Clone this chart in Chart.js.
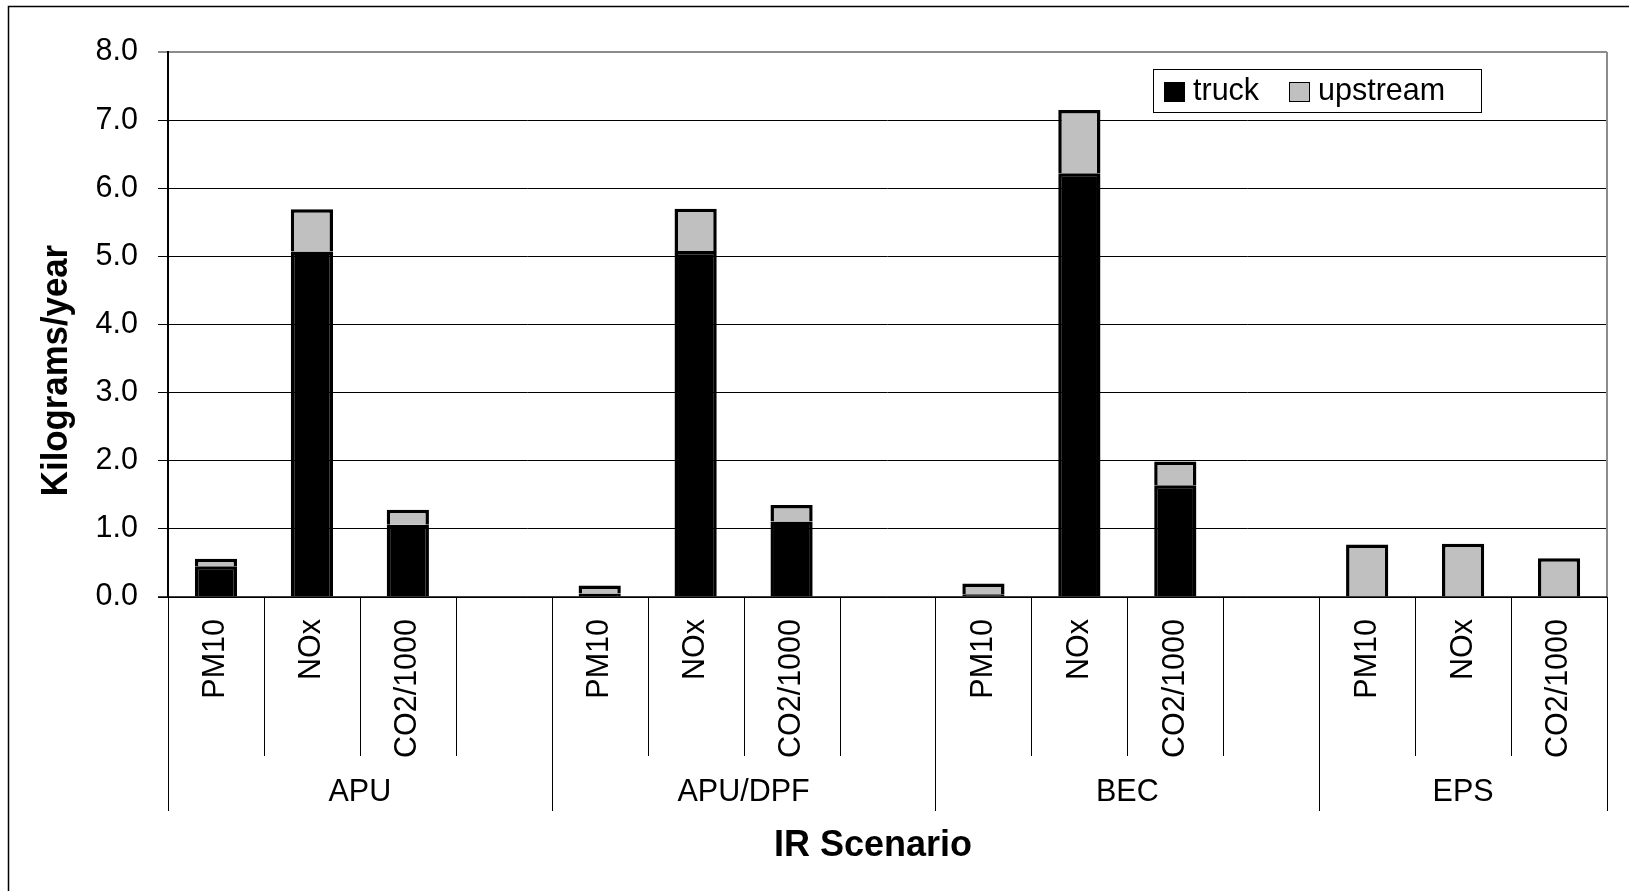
<!DOCTYPE html>
<html>
<head>
<meta charset="utf-8">
<title>IR Scenario emissions</title>
<script src="https://cdn.jsdelivr.net/npm/chart.js@4.4.1/dist/chart.umd.min.js"></script>
<style>
  html, body { margin: 0; padding: 0; background: #ffffff; }
  #wrap { width: 1629px; height: 891px; }
</style>
</head>
<body>
<div id="wrap"><canvas id="chart" width="1629" height="891"></canvas></div>
<script>
// Pollutant slots per scenario (blank slot separates the scenario groups)
const categories = ['PM10', 'NOx', 'CO2/1000', '',
                    'PM10', 'NOx', 'CO2/1000', '',
                    'PM10', 'NOx', 'CO2/1000', '',
                    'PM10', 'NOx', 'CO2/1000'];
const groups = ['APU', 'APU/DPF', 'BEC', 'EPS'];
const groupSizes = [4, 4, 4, 3];

// kilograms/year
const truck    = [0.45, 5.07, 1.06, null,  0.05, 5.08, 1.11, null,  0.04, 6.22, 1.64, null,  0, 0, 0];
const upstream = [0.11, 0.62, 0.22, null,  0.12, 0.62, 0.24, null,  0.16, 0.93, 0.35, null,  0.77, 0.78, 0.57];

const seriesNames = ['truck', 'upstream'];
const seriesColors = ['#000000', '#c0c0c0'];

const yMin = 0, yMax = 8, yStep = 1;
const yTitle = 'Kilograms/year';
const xTitle = 'IR Scenario';

const FONT = '"Liberation Sans", Arial, sans-serif';
const TEXT_SIZE = 30.5;

const decorations = {
  id: 'decorations',
  afterDraw(chart) {
    const ctx = chart.ctx;
    const xs = chart.scales.x;
    const area = chart.chartArea;
    const n = categories.length;
    const w = (xs.right - xs.left) / n;
    ctx.save();

    // outer frame
    ctx.strokeStyle = '#000';
    ctx.lineWidth = 1.5;
    ctx.strokeRect(8.5, 6.5, 1700, 1000);

    // plot area right edge
    ctx.strokeStyle = '#8c8c8c';
    ctx.lineWidth = 2;
    ctx.beginPath();
    ctx.moveTo(area.right, area.top);
    ctx.lineTo(area.right, area.bottom);
    ctx.stroke();

    // value axis line
    ctx.strokeStyle = '#000';
    ctx.lineWidth = 2;
    ctx.beginPath();
    ctx.moveTo(area.left, area.top - 1);
    ctx.lineTo(area.left, area.bottom);
    ctx.stroke();

    // category axis line
    ctx.lineWidth = 1.5;
    ctx.beginPath();
    ctx.moveTo(area.left - 10, area.bottom);
    ctx.lineTo(area.right, area.bottom);
    ctx.stroke();

    // slot and group dividers under the axis
    const groupEdges = [0];
    groupSizes.reduce((acc, s) => { groupEdges.push(acc + s); return acc + s; }, 0);
    ctx.lineWidth = 1;
    for (let i = 0; i <= n; i++) {
      const x = Math.round(xs.left + i * w) + 0.5;
      const isGroup = groupEdges.includes(i);
      ctx.beginPath();
      ctx.moveTo(x, area.bottom);
      ctx.lineTo(x, isGroup ? 811 : 756);
      ctx.stroke();
    }

    // scenario names
    ctx.fillStyle = '#000';
    ctx.font = TEXT_SIZE + 'px ' + FONT;
    ctx.textAlign = 'center';
    ctx.textBaseline = 'middle';
    groups.forEach((g, k) => {
      const a = groupEdges[k], b = groupEdges[k + 1];
      const cx = xs.left + (a + b) / 2 * w;
      ctx.fillText(g, cx, 793);
    });

    // category axis title
    ctx.font = 'bold 36px ' + FONT;
    ctx.textBaseline = 'alphabetic';
    ctx.fillText(xTitle, 873, 856);

    // value axis title
    ctx.save();
    ctx.translate(67, 370.5);
    ctx.rotate(-Math.PI / 2);
    ctx.scale(0.94, 1);
    ctx.font = 'bold 37px ' + FONT;
    ctx.textAlign = 'center';
    ctx.textBaseline = 'alphabetic';
    ctx.fillText(yTitle, 0, 0);
    ctx.restore();

    // legend
    ctx.strokeStyle = '#000';
    ctx.lineWidth = 1;
    ctx.strokeRect(1153.5, 69.5, 328, 43);
    ctx.font = TEXT_SIZE + 'px ' + FONT;
    ctx.textAlign = 'left';
    ctx.textBaseline = 'middle';
    const keyX = [1164, 1289];
    chart.data.datasets.forEach((ds, i) => {
      ctx.fillStyle = ds.backgroundColor;
      ctx.fillRect(keyX[i], 82, 21, 20);
      ctx.strokeStyle = '#000';
      ctx.lineWidth = 1;
      ctx.strokeRect(keyX[i] + 0.5, 82.5, 20, 19);
      ctx.fillStyle = '#000';
      ctx.fillText(ds.label, keyX[i] + 29, 92);
    });

    ctx.restore();
  }
};

new Chart(document.getElementById('chart'), {
  type: 'bar',
  data: {
    labels: categories,
    datasets: [
      {
        label: seriesNames[0],
        data: truck,
        backgroundColor: seriesColors[0],
        borderColor: '#000',
        borderWidth: (c) => (c.raw ? 3.5 : 0),
        borderSkipped: 'start'
      },
      {
        label: seriesNames[1],
        data: upstream,
        backgroundColor: seriesColors[1],
        borderColor: '#000',
        borderWidth: 3.5,
        borderSkipped: 'start'
      }
    ]
  },
  options: {
    responsive: false,
    animation: false,
    devicePixelRatio: 1,
    layout: { padding: { top: 52, right: 22, left: 0, bottom: 0 } },
    datasets: { bar: { categoryPercentage: 1, barPercentage: 0.44 } },
    plugins: { legend: { display: false }, tooltip: { enabled: false } },
    scales: {
      x: {
        stacked: true,
        grid: { display: false, drawTicks: false },
        border: { display: false },
        ticks: {
          autoSkip: false,
          minRotation: 90,
          maxRotation: 90,
          padding: 22,
          color: '#000',
          font: { size: TEXT_SIZE, family: FONT }
        },
        afterFit(s) { s.height = 294; }
      },
      y: {
        stacked: true,
        min: yMin,
        max: yMax,
        grid: {
          color: (c) => (c.tick && c.tick.value === yMax ? '#8c8c8c' : '#000'),
          lineWidth: (c) => (c.tick && c.tick.value === yMax ? 2 : 1),
          tickLength: 10
        },
        border: { display: false },
        ticks: {
          stepSize: yStep,
          padding: 20,
          color: '#000',
          font: { size: TEXT_SIZE, family: FONT },
          callback: (v) => Number(v).toFixed(1)
        },
        afterFit(s) { s.width = 168; }
      }
    }
  },
  plugins: [decorations]
});
</script>
</body>
</html>
